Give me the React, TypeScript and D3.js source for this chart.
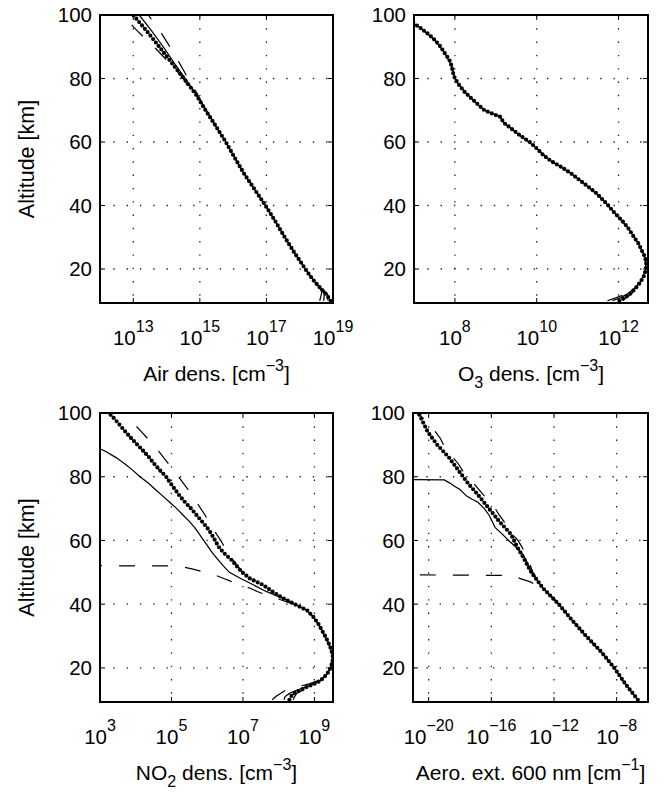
import React from "react";
import * as d3 from "d3";

type Pt = [number, number]; // [altitude km, log10(value)]

// ---------- axis data ----------
const ALT_DOMAIN = [9.3, 100];
const ALT_TICKS = [20, 40, 60, 80, 100];
const ALT_GRID = [20, 40, 60, 80];

const AIR_DOMAIN_EXP = [12, 19];
const AIR_TICK_EXP = [13, 15, 17, 19];
const O3_DOMAIN_EXP = [7, 12.72];
const O3_TICK_EXP = [8, 10, 12];
const NO2_DOMAIN_EXP = [3, 9.52];
const NO2_TICK_EXP = [3, 5, 7, 9];
const AERO_DOMAIN_EXP = [-21, -6];
const AERO_TICK_EXP = [-20, -16, -12, -8];

// ---------- Air density ----------
const airTruth: Pt[] = [[10,18.93],[12,18.8],[14,18.62],[16,18.45],[18,18.3],[20,18.17],[25,17.85],[30,17.55],[35,17.27],[40,16.97],[45,16.65],[50,16.33],[55,16.05],[60,15.78],[65,15.48],[70,15.17],[75,14.88],[80,14.52],[85,14.15],[90,13.78],[95,13.4],[100,13.0]];
const airRetr: Pt[] = [[10,18.72],[12,18.74],[13,18.7],[14,18.63],[16,18.45],[20,18.17],[25,17.85],[30,17.55],[35,17.27],[40,16.97],[45,16.65],[50,16.33],[55,16.05],[60,15.78],[65,15.48],[70,15.2],[75,14.9],[80,14.56],[85,14.22],[90,13.9],[95,13.55],[100,13.18]];
const airLowTop: Pt[] = [[78,14.62],[80,14.5],[85,14.08],[90,13.62],[95,13.12],[100,12.68]];
const airLowBot: Pt[] = [[10,18.6],[12,18.65],[13,18.66],[15,18.52]];
const airUpTop: Pt[] = [[72,15.08],[76,14.88],[80,14.65],[85,14.38],[90,14.1],[95,13.8],[100,13.45]];
const airUpBot: Pt[] = [[10,18.85],[12,18.84],[14,18.66]];

// ---------- O3 density ----------
const o3Truth: Pt[] = [[10,12.02],[11,12.15],[12,12.27],[14,12.42],[16,12.54],[18,12.63],[20,12.67],[22,12.68],[24,12.64],[26,12.56],[28,12.49],[30,12.38],[33,12.23],[35,12.1],[38,11.88],[40,11.75],[42,11.6],[44,11.45],[46,11.25],[48,11.05],[50,10.85],[52,10.62],[54,10.35],[56,10.15],[58,10.0],[60,9.83],[62,9.6],[64,9.4],[66,9.2],[68,9.1],[69,8.9],[70,8.72],[72,8.55],[74,8.38],[76,8.22],[78,8.1],[80,8.0],[82,7.95],[84,7.92],[86,7.86],[88,7.75],[90,7.65],[92,7.52],[94,7.35],[96,7.15],[98,6.92],[100,6.65]];
const o3Retr: Pt[] = [[10,11.85],[11,12.05],[12,12.2],[14,12.4],[16,12.54],[20,12.67],[24,12.64],[28,12.49],[33,12.23],[38,11.88],[42,11.6],[46,11.25],[50,10.85],[54,10.35],[58,10.0],[62,9.6],[66,9.2],[68,9.1],[70,8.72],[74,8.38],[78,8.1],[80,8.0],[84,7.92],[88,7.75],[92,7.52],[96,7.15],[100,6.65]];
const o3Low: Pt[] = [[10,11.73],[11,11.95],[12,12.15],[13,12.33],[14,12.42]];
const o3Up: Pt[] = [[10,12.1],[11,12.2],[12,12.3],[14,12.44]];

// ---------- NO2 density ----------
const no2Truth: Pt[] = [[10,8.3],[11,8.34],[12,8.42],[13,8.6],[14,8.78],[15,9.0],[16,9.17],[18,9.35],[20,9.45],[22,9.51],[24,9.51],[26,9.46],[28,9.39],[30,9.3],[32,9.2],[34,9.1],[36,8.97],[38,8.8],[40,8.45],[42,8.1],[44,7.82],[46,7.57],[48,7.2],[50,6.98],[52,6.82],[54,6.67],[56,6.47],[58,6.32],[60,6.22],[62,6.12],[64,6.0],[66,5.85],[68,5.7],[70,5.55],[72,5.38],[74,5.23],[76,5.1],[78,4.97],[80,4.85],[82,4.68],[84,4.52],[86,4.38],[88,4.22],[90,4.05],[92,3.88],[94,3.72],[96,3.57],[98,3.42],[100,3.25]];
const no2Retr: Pt[] = [[10,8.15],[11,8.18],[12,8.3],[13,8.5],[14,8.75],[15,8.97],[16,9.15],[18,9.35],[20,9.45],[24,9.51],[28,9.39],[32,9.2],[36,8.97],[38,8.8],[40,8.45],[42,8.08],[44,7.65],[46,7.3],[48,6.95],[50,6.62],[52,6.45],[54,6.3],[56,6.15],[58,6.03],[60,5.9],[62,5.78],[64,5.65],[66,5.5],[68,5.32],[70,5.15],[72,4.95],[74,4.75],[76,4.55],[78,4.35],[80,4.12],[82,3.92],[84,3.7],[86,3.45],[88,3.15],[89,2.95]];
const no2LowBot: Pt[] = [[10,7.82],[11,7.92],[12,8.05],[13,8.2],[14,8.5],[15,8.85],[16,9.1]];
const no2LowTop: Pt[] = [[40,8.42],[41,8.15],[42,7.9],[43,7.62],[44,7.4],[45,7.2],[46,6.95],[47,6.7],[48,6.48],[49,6.25],[50,5.95],[51,5.6],[52,5.2],[53,-30]];
const no2UpBot: Pt[] = [[10,8.4],[12,8.5],[14,8.85],[16,9.17]];
const no2UpTop: Pt[] = [[50,7.0],[52,6.85],[54,6.72],[56,6.6],[58,6.48],[60,6.38],[62,6.26],[64,6.14],[66,6.04],[68,5.94],[70,5.82],[72,5.71],[74,5.6],[76,5.46],[78,5.33],[80,5.2],[82,5.06],[84,4.92],[86,4.78],[88,4.64],[90,4.5],[92,4.33],[94,4.17],[96,4.0],[98,3.85],[100,3.7]];

// ---------- Aerosol extinction ----------
const aeroTruth: Pt[] = [[10,-6.65],[15,-7.45],[20,-8.15],[25,-8.98],[30,-9.95],[35,-10.85],[40,-11.7],[45,-12.7],[50,-13.45],[55,-14.0],[58,-14.35],[62,-14.75],[66,-15.5],[70,-16.15],[74,-16.8],[78,-17.5],[82,-18.1],[86,-18.7],[90,-19.45],[94,-20.05],[97,-20.35],[100,-20.65]];
const aeroRetr: Pt[] = [[10,-6.65],[15,-7.45],[20,-8.15],[25,-8.98],[30,-9.95],[35,-10.85],[40,-11.7],[45,-12.7],[50,-13.45],[54,-13.8],[56,-14.05],[58,-14.45],[60,-14.9],[62,-15.3],[64,-15.75],[66,-15.95],[68,-16.15],[70,-16.45],[72,-16.85],[73,-17.25],[74,-17.6],[75,-17.8],[76,-18.0],[77,-18.35],[78,-18.65],[79,-19.0],[80,-45]];
const aeroLow: Pt[] = [[40,-11.7],[41,-11.85],[42,-12.05],[43,-12.3],[44,-12.55],[45,-12.85],[46,-13.15],[47,-13.5],[48,-14.15],[49,-14.6],[50,-45]];
const aeroUp: Pt[] = [[40,-11.7],[42,-12.1],[46,-12.85],[50,-13.35],[52,-13.5],[54,-13.65],[56,-13.85],[58,-14.05],[60,-14.3],[62,-14.65],[64,-14.95],[66,-15.2],[68,-15.5],[70,-15.75],[72,-16.05],[74,-16.45],[76,-16.8],[78,-17.15],[80,-17.55],[82,-17.85],[84,-18.1],[86,-18.45],[88,-18.75],[90,-19.05],[92,-19.25],[94,-19.55],[96,-19.85],[98,-20.25],[100,-20.75]];

// ---------- rendering ----------
const FONT = "'Liberation Sans', Arial, Helvetica, sans-serif";
type Box = { x0: number; x1: number; y0: number; y1: number };
type Style = "dots" | "solid" | "dash";
type Series = { data: Pt[]; style: Style };

const styleProps = (s: Style) => {
  if (s === "dots") return { strokeWidth: 4.2, strokeDasharray: "0 4.4", strokeLinecap: "round" as const };
  if (s === "dash") return { strokeWidth: 1.2, strokeDasharray: "16 17" };
  return { strokeWidth: 1.25 };
};

function Sup({ base, exp, size = 20 }: { base: string; exp: string; size?: number }) {
  return (
    <>
      <tspan>{base}</tspan>
      <tspan dy={-13} fontSize={size * 0.8}>{exp}</tspan>
    </>
  );
}

function Panel({ id, box, domainExp, tickExp, series, yLabel, xLabel }: {
  id: string; box: Box; domainExp: number[]; tickExp: number[]; series: Series[]; yLabel: boolean; xLabel: React.ReactNode;
}) {
  const x = d3.scaleLog().domain([10 ** domainExp[0], 10 ** domainExp[1]]).range([box.x0, box.x1]);
  const y = d3.scaleLinear().domain(ALT_DOMAIN).range([box.y1, box.y0]);
  const line = d3.line<Pt>().x((d) => x(10 ** d[1])).y((d) => y(d[0]));
  const cx = (box.x0 + box.x1) / 2;
  const cy = (box.y0 + box.y1) / 2;
  const fmtExp = (e: number) => (e < 0 ? "\u2212" + Math.abs(e) : String(e));
  return (
    <g>
      <defs>
        <clipPath id={id}>
          <rect x={box.x0} y={box.y0} width={box.x1 - box.x0} height={box.y1 - box.y0} />
        </clipPath>
      </defs>
      {tickExp.map((e) => {
        const px = x(10 ** e);
        if (px <= box.x0 + 1 || px >= box.x1 - 1) return null;
        return <line key={"gx" + e} x1={px} x2={px} y1={box.y0} y2={box.y1} stroke="#222" strokeWidth={1.3} strokeDasharray="1.4 11.9" />;
      })}
      {ALT_GRID.map((a) => (
        <line key={"gy" + a} x1={box.x0} x2={box.x1} y1={y(a)} y2={y(a)} stroke="#222" strokeWidth={1.3} strokeDasharray="1.4 11.9" />
      ))}
      {tickExp.map((e) => {
        const px = x(10 ** e);
        return (
          <g key={"tx" + e}>
            <line x1={px} x2={px} y1={box.y1} y2={box.y1 - 5} stroke="#000" strokeWidth={1} />
            <line x1={px} x2={px} y1={box.y0} y2={box.y0 + 5} stroke="#000" strokeWidth={1} />
          </g>
        );
      })}
      {ALT_GRID.map((a) => (
        <g key={"ty" + a}>
          <line x1={box.x0} x2={box.x0 + 5} y1={y(a)} y2={y(a)} stroke="#000" strokeWidth={1} />
          <line x1={box.x1} x2={box.x1 - 5} y1={y(a)} y2={y(a)} stroke="#000" strokeWidth={1} />
        </g>
      ))}
      <g clipPath={`url(#${id})`}>
        {series.map((s, i) => (
          <path key={i} d={line(s.data) || ""} fill="none" stroke="#000" {...styleProps(s.style)} />
        ))}
      </g>
      <rect x={box.x0} y={box.y0} width={box.x1 - box.x0} height={box.y1 - box.y0} fill="none" stroke="#000" strokeWidth={2} />
      {ALT_TICKS.map((a) => (
        <text key={"yl" + a} x={box.x0 - 8} y={y(a)} dy="0.36em" textAnchor="end" fontSize={20.5} fontFamily={FONT}>{a}</text>
      ))}
      {tickExp.map((e) => (
        <text key={"xl" + e} x={x(10 ** e)} y={box.y1 + 42} textAnchor="middle" fontSize={20.5} fontFamily={FONT}>
          <Sup base="10" exp={fmtExp(e)} />
        </text>
      ))}
      {yLabel && (
        <text transform={`translate(34,${cy}) rotate(-90)`} textAnchor="middle" fontSize={21.5} fontFamily={FONT}>Altitude [km]</text>
      )}
      <text x={cx} y={box.y1 + 78} textAnchor="middle" fontSize={21} fontFamily={FONT}>{xLabel}</text>
    </g>
  );
}

const P1: Box = { x0: 100, x1: 333, y0: 15, y1: 303 };
const P2: Box = { x0: 414, x1: 648, y0: 15, y1: 303 };
const P3: Box = { x0: 100, x1: 333, y0: 413, y1: 702 };
const P4: Box = { x0: 413, x1: 648, y0: 413, y1: 702 };

export default function App() {
  const cm = (e: string) => (
    <>
      <tspan>[cm</tspan>
      <tspan dy={-10} fontSize={16}>{e}</tspan>
      <tspan dy={10}>]</tspan>
    </>
  );
  return (
    <svg width={670} height={793} style={{ position: "absolute", left: 0, top: 0, background: "#fff" }}>
      <rect width={670} height={793} fill="#fff" />
      <Panel id="c1" box={P1} domainExp={AIR_DOMAIN_EXP} tickExp={AIR_TICK_EXP} yLabel
        series={[{ data: airTruth, style: "dots" }, { data: airRetr, style: "solid" }, { data: airLowTop, style: "dash" }, { data: airLowBot, style: "dash" }, { data: airUpTop, style: "dash" }, { data: airUpBot, style: "dash" }]}
        xLabel={<><tspan>Air dens. </tspan>{cm("\u22123")}</>} />
      <Panel id="c2" box={P2} domainExp={O3_DOMAIN_EXP} tickExp={O3_TICK_EXP} yLabel={false}
        series={[{ data: o3Truth, style: "dots" }, { data: o3Retr, style: "solid" }, { data: o3Low, style: "dash" }, { data: o3Up, style: "dash" }]}
        xLabel={<><tspan>O</tspan><tspan dy={7} fontSize={16}>3</tspan><tspan dy={-7}> dens. </tspan>{cm("\u22123")}</>} />
      <Panel id="c3" box={P3} domainExp={NO2_DOMAIN_EXP} tickExp={NO2_TICK_EXP} yLabel
        series={[{ data: no2Truth, style: "dots" }, { data: no2Retr, style: "solid" }, { data: no2LowBot, style: "dash" }, { data: no2LowTop, style: "dash" }, { data: no2UpBot, style: "dash" }, { data: no2UpTop, style: "dash" }]}
        xLabel={<><tspan>NO</tspan><tspan dy={7} fontSize={16}>2</tspan><tspan dy={-7}> dens. </tspan>{cm("\u22123")}</>} />
      <Panel id="c4" box={P4} domainExp={AERO_DOMAIN_EXP} tickExp={AERO_TICK_EXP} yLabel={false}
        series={[{ data: aeroTruth, style: "dots" }, { data: aeroRetr, style: "solid" }, { data: aeroLow, style: "dash" }, { data: aeroUp, style: "dash" }]}
        xLabel={<><tspan>Aero. ext. 600 nm </tspan>{cm("\u22121")}</>} />
    </svg>
  );
}
